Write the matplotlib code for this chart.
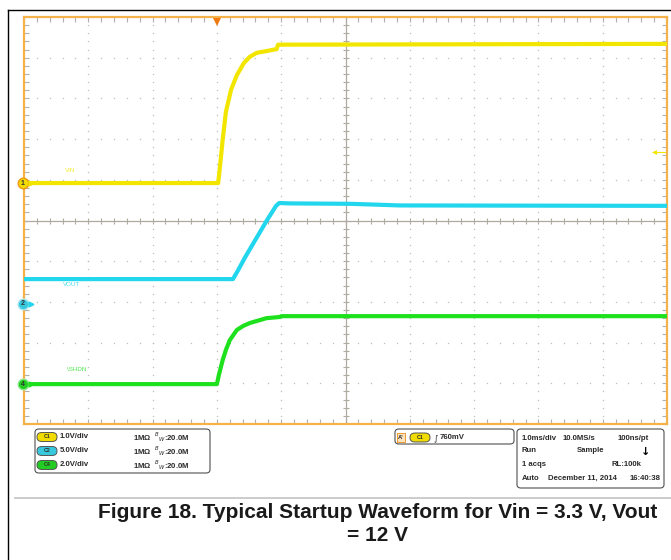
import numpy as np
import matplotlib
matplotlib.use("Agg")
import matplotlib.pyplot as plt
from matplotlib.lines import Line2D
from matplotlib.patches import FancyBboxPatch, Rectangle

# ---- waveform data read from the scope shot (time in ms, level in volts) ----
vin_t = [-3.0, 0.02, 0.05, 0.09, 0.14, 0.22, 0.31, 0.42, 0.51, 0.62, 0.76, 0.89, 0.93, 0.95, 7.0]
vin_v = [0.0, 0.0, 0.44, 1.06, 1.75, 2.29, 2.65, 2.95, 3.10, 3.20, 3.24, 3.28, 3.29, 3.40, 3.42]

vout_t = [-3.0, 0.25, 0.33, 0.44, 0.78, 0.92, 0.97, 1.14, 2.07, 2.85, 7.0]
vout_v = [3.05, 3.05, 4.15, 5.75, 10.3, 12.05, 12.4, 12.35, 12.3, 12.1, 12.05]

shdn_t = [-3.0, 0.0, 0.03, 0.09, 0.14, 0.20, 0.31, 0.41, 0.51, 0.77, 0.98, 1.0, 7.0]
shdn_v = [0.0, 0.0, 0.44, 1.18, 1.68, 2.16, 2.66, 2.86, 3.0, 3.24, 3.30, 3.34, 3.34]

channel_names = ["VIN", "VOUT", "\\SHDN"]
channel_ids = ["1", "2", "4"]
channel_pills = ["C1", "C2", "C4"]
volts_per_div = [1.0, 5.0, 2.0]
scale_labels = ["1.0V/div", "5.0V/div", "2.0V/div"]
trigger_level = 0.76  # V on C1

timebase_lines = [["1.0ms/div", "10.0MS/s", "100ns/pt"],
                  ["Run", "Sample", ""],
                  ["1 acqs", "", "RL:100k"],
                  ["Auto", "December 11, 2014", "16:40:38"]]
caption = "Figure 18. Typical Startup Waveform for Vin = 3.3 V, Vout\n= 12 V"

# ---- screen layout (divisions) ----
trig_pos = 3.0
grounds = [5.92, 2.95, 0.98]
colors = ["#f2e600", "#22d6ee", "#1ee11e"]
fills = ["#f0dc00", "#36c8dc", "#22cc22"]
edges = ["#f09a10", "#9fe4f2", "#8ee88e"]

W, H = 671, 560
def fx(x):
    return x / W
def fy(y):
    return 1 - y / H

fig = plt.figure(figsize=(W / 100, H / 100), dpi=100)
ax = fig.add_axes([fx(24), fy(424), 643 / W, 407 / H])
ax.set_xlim(0, 10)
ax.set_ylim(0, 10)

# graticule
minor = np.arange(0, 10.001, 0.2)
grid_col = "#bdbdbd"
for k in range(1, 10):
    if k == 5:
        continue
    ax.plot(np.full(minor.size, k), minor, ls="none", marker="s", ms=0.9, color=grid_col, mew=0)
    ax.plot(minor, np.full(minor.size, k), ls="none", marker="s", ms=0.9, color=grid_col, mew=0)
ax.axvline(5, color="#b0aaa0", lw=0.9)
ax.axhline(5, color="#b0aaa0", lw=0.9)
ax.plot(minor, np.full(minor.size, 5), ls="none", marker="|", ms=5, color="#b0aaa0", mew=0.8)
ax.plot(np.full(minor.size, 5), minor, ls="none", marker="_", ms=5, color="#b0aaa0", mew=0.8)

ax.set_xticks(minor)
ax.set_yticks(minor)
ax.tick_params(which="both", direction="in", length=3.5, width=0.8, color="#b0b0b0",
               top=True, right=True, labelbottom=False, labelleft=False)
for s in ax.spines.values():
    s.set_color("#f5b24a")
    s.set_linewidth(1.6)

# traces
series = [(vin_t, vin_v), (vout_t, vout_v), (shdn_t, shdn_v)]
for i, (t, v) in enumerate(series):
    x = np.array(t) + trig_pos
    y = np.array(v) / volts_per_div[i] + grounds[i]
    ax.plot(x, y, color=colors[i], lw=3.0, solid_capstyle="butt", zorder=3)

label_pos = [(0.64, 6.22), (0.61, 3.42), (0.67, 1.33)]
for i, name in enumerate(channel_names):
    ax.text(label_pos[i][0], label_pos[i][1], name, color=colors[i], fontsize=4.5,
            family="Liberation Sans", ha="left", va="center", alpha=0.8)
    # ground markers
    ax.plot([-0.02], [grounds[i]], marker="o", ms=7.6, mfc=fills[i], mec=edges[i],
            mew=1.0, clip_on=False, zorder=5)
    ax.text(-0.02, grounds[i], channel_ids[i], fontsize=5, ha="center", va="center",
            color="#333333", zorder=6, family="Liberation Sans", weight="bold")
    ax.plot([0.11], [grounds[i]], marker=">", ms=3.5, color=colors[i], clip_on=False, zorder=5)

# trigger markers
ax.plot([trig_pos], [9.88], marker="v", ms=6, color="#f07a10", mew=0, clip_on=False, zorder=6)
ty = trigger_level / volts_per_div[0] + grounds[0]
ax.plot([9.78, 9.98], [ty, ty], color=colors[0], lw=0.8)
ax.plot([9.8], [ty], marker="<", ms=3.5, color=colors[0], mew=0)

# outer frame
fig.add_artist(Line2D([fx(8), 1], [fy(10), fy(10)], color="black", lw=1.0))
fig.add_artist(Line2D([fx(8), fx(8)], [fy(10), 0], color="black", lw=1.0))

# readout boxes
def box(x0, y0, x1, y1):
    fig.add_artist(FancyBboxPatch((fx(x0), fy(y1)), fx(x1) - fx(x0), fy(y0) - fy(y1),
                                  boxstyle="round,pad=0,rounding_size=0.006",
                                  transform=fig.transFigure, fc="white", ec="#505050", lw=0.8))

def pill(xc, yc, label, fc, ec):
    w, h = 20, 9
    fig.add_artist(FancyBboxPatch((fx(xc - w / 2), fy(yc + h / 2)), w / W, h / H,
                                  boxstyle="round,pad=0,rounding_size=0.0075",
                                  transform=fig.transFigure, fc=fc, ec=ec, lw=0.7))
    fig.text(fx(xc), fy(yc), label, fontsize=3.8, ha="center", va="center",
             color="#303030", family="Liberation Sans", weight="bold")

txt = dict(fontsize=5.6, family="Liberation Sans", weight="bold", color="#2a2a2a", va="center")

box(35, 429, 210, 473)
rows_y = [437, 451, 465]
for i in range(3):
    pill(47, rows_y[i], channel_pills[i], fills[i], "#555555")
    fig.text(fx(60), fy(rows_y[i]), scale_labels[i], **txt)
    fig.text(fx(133), fy(rows_y[i]), "1MΩ  $^{B}$$_{W}$:20.0M", **txt)

box(395, 429, 514, 444)
fig.add_artist(Rectangle((fx(397), fy(442)), 8 / W, 9 / H, transform=fig.transFigure,
                         fc="#fbe3c0", ec="#f09a30", lw=0.7))
fig.text(fx(401), fy(437.5), "A'", fontsize=4.2, ha="center", **{k: v for k, v in txt.items() if k != "fontsize"})
pill(420, 437.5, "C1", fills[0], "#555555")
fig.text(fx(434), fy(437.5), "∫", fontsize=6, family="DejaVu Sans", color="#2a2a2a", va="center")
fig.text(fx(440), fy(437.5), "760mV", **txt)

box(517, 429, 664, 488)
col_x = [522, 563, 618]
rows3 = [438, 451, 464, 478]
for r, line in enumerate(timebase_lines):
    xs = col_x if r != 3 else [522, 548, 630]
    if r == 1:
        xs = [522, 577, 618]
    if r == 2:
        xs = [522, 577, 612]
    for c, s in enumerate(line):
        if s:
            fig.text(fx(xs[c]), fy(rows3[r]), s, **txt)
fig.text(fx(646), fy(452), "↓", fontsize=8, family="DejaVu Sans", weight="bold",
         color="black", ha="center", va="center")

fig.add_artist(Line2D([fx(15), 1], [fy(498), fy(498)], color="#c8c8c8", lw=1.3))

fig.text(fx(378), fy(524), caption, fontsize=15.0, family="Liberation Sans", weight="bold",
         ha="center", va="center", linespacing=1.33, color="#1a1a1a")

fig.savefig("out.png", dpi=100)
